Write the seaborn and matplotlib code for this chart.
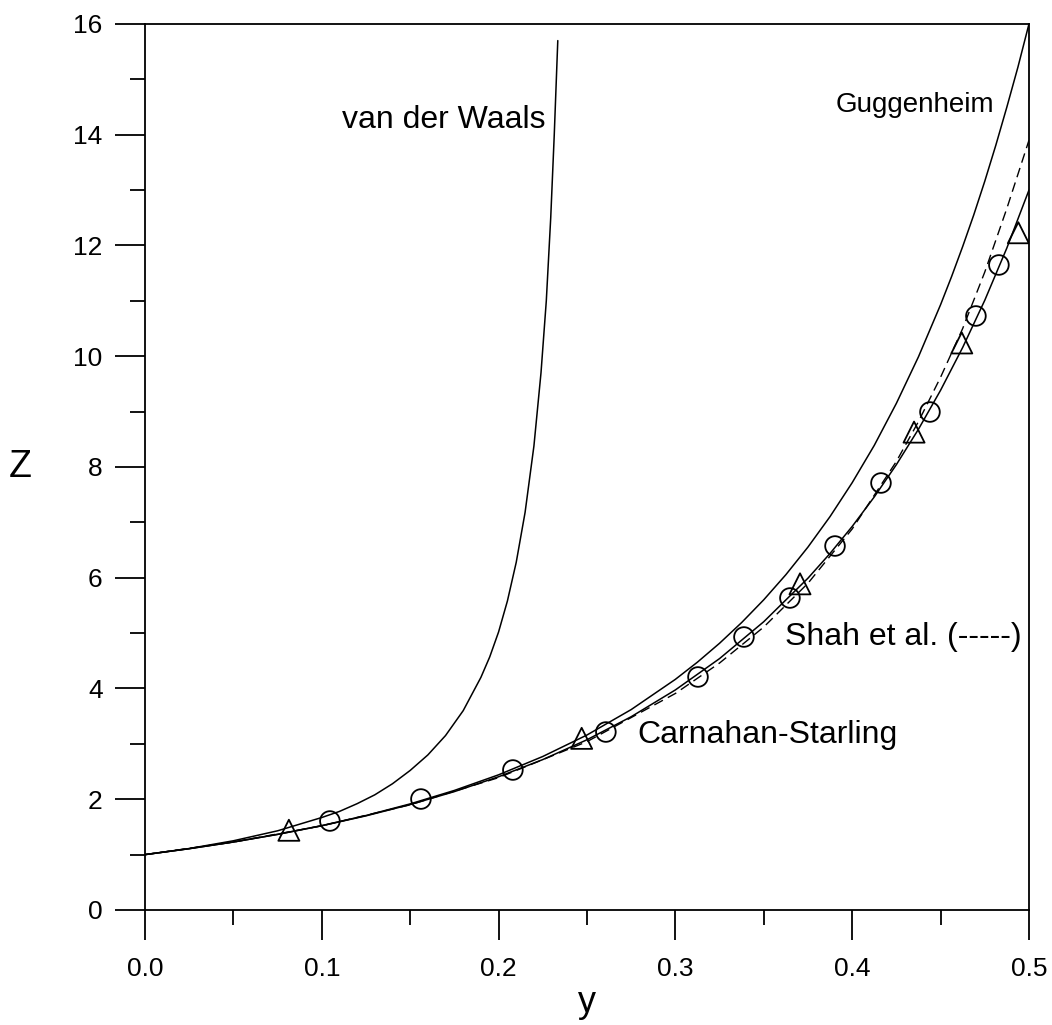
import numpy as np
import pandas as pd
import matplotlib
matplotlib.use("Agg")
import matplotlib.pyplot as plt
import seaborn as sns

# packing fraction y and compressibility factor Z
vdw_y = [0.0, 0.025, 0.05, 0.075, 0.1, 0.11, 0.12, 0.13, 0.14, 0.15, 0.16, 0.17,
         0.18, 0.19, 0.195, 0.2, 0.205, 0.21, 0.215, 0.22, 0.224, 0.227, 0.2295,
         0.2315, 0.2335]
vdw_z = [1.0, 1.11, 1.25, 1.43, 1.67, 1.78, 1.92, 2.08, 2.28, 2.52, 2.8, 3.15,
         3.6, 4.2, 4.57, 5.02, 5.58, 6.28, 7.18, 8.38, 9.7, 11.0, 12.5,
         14.0, 15.7]

gug_y = [0.0, 0.025, 0.05, 0.075, 0.1, 0.125, 0.15, 0.175, 0.2, 0.225, 0.25, 0.275,
         0.3, 0.3125, 0.325, 0.3375, 0.35, 0.3625, 0.375, 0.3875, 0.4, 0.4125,
         0.425, 0.4375, 0.45, 0.45625, 0.4625, 0.46875, 0.475, 0.48125, 0.4875,
         0.49375, 0.5]
gug_z = [1.0, 1.107, 1.228, 1.366, 1.524, 1.706, 1.916, 2.159, 2.441, 2.772, 3.16, 3.619,
         4.165, 4.476, 4.817, 5.191, 5.602, 6.055, 6.554, 7.105, 7.716, 8.39,
         9.149, 9.99, 10.93, 11.44, 11.98, 12.55, 13.16, 13.81, 14.5,
         15.22, 16.0]

cs_y = [0.0, 0.025, 0.05, 0.075, 0.1, 0.125, 0.15, 0.175, 0.2, 0.225, 0.25, 0.275,
        0.3, 0.325, 0.35, 0.375, 0.3875, 0.4, 0.4125, 0.425, 0.4375, 0.45, 0.4625,
        0.475, 0.4875, 0.5]
cs_z = [1.0, 1.107, 1.227, 1.365, 1.521, 1.70, 1.904, 2.138, 2.406, 2.716, 3.074, 3.49,
        3.974, 4.54, 5.206, 5.992, 6.439, 6.926, 7.459, 8.042, 8.682, 9.385, 10.158,
        11.01, 11.955, 13.0]

shah_y = [0.0, 0.05, 0.1, 0.15, 0.2, 0.25, 0.3, 0.325, 0.35, 0.375, 0.4, 0.425,
          0.4375, 0.45, 0.4625, 0.475, 0.4875, 0.5]
shah_z = [1.0, 1.227, 1.52, 1.90, 2.39, 3.04, 3.91, 4.46, 5.11, 5.90, 6.88, 8.10,
          8.82, 9.62, 10.50, 11.52, 12.67, 13.9]

circ_y = [0.1046, 0.1561, 0.2081, 0.2607, 0.3128, 0.3388, 0.3648, 0.3903, 0.4163, 0.444, 0.47, 0.483]
circ_z = [1.607, 2.004, 2.528, 3.214, 4.208, 4.93, 5.634, 6.573, 7.711, 8.993, 10.727, 11.648]

tri_y = [0.0814, 0.247, 0.3705, 0.435, 0.462, 0.494]
tri_z = [1.44, 3.10, 5.89, 8.63, 10.24, 12.23]

sns.set_style("ticks")
plt.rcParams["font.family"] = ["Liberation Sans", "DejaVu Sans"]
plt.rcParams["text.color"] = "black"
plt.rcParams["axes.labelcolor"] = "black"

fig = plt.figure(figsize=(10.52, 10.25), dpi=100)
ax = fig.add_axes([0.1378, 0.1122, 0.8403, 0.8644])

sns.lineplot(x=vdw_y, y=vdw_z, sort=False, color="black", lw=1.1, ax=ax)
sns.lineplot(x=gug_y, y=gug_z, sort=False, color="black", lw=1.1, ax=ax)
sns.lineplot(x=cs_y, y=cs_z, sort=False, color="black", lw=1.1, ax=ax)
sns.lineplot(x=shah_y, y=shah_z, sort=False, color="black", lw=1.0, ax=ax,
             linestyle=(0, (7, 4)))

sns.scatterplot(x=circ_y, y=circ_z, marker="o", s=200, facecolors="none",
                edgecolor="black", linewidth=1.3, ax=ax, zorder=3)
sns.scatterplot(x=tri_y, y=tri_z, marker="^", s=230, facecolors="none",
                edgecolor="black", linewidth=1.3, ax=ax, zorder=3)

ax.set_xlim(0, 0.5)
ax.set_ylim(0, 16)
ax.set_xticks([0, 0.1, 0.2, 0.3, 0.4, 0.5])
ax.set_xticklabels(["0.0", "0.1", "0.2", "0.3", "0.4", "0.5"])
ax.set_xticks(np.arange(0.05, 0.5, 0.1), minor=True)
ax.set_yticks(range(0, 17, 2))
ax.set_yticks(range(1, 16, 2), minor=True)

for side in ["left", "right", "top", "bottom"]:
    ax.spines[side].set_visible(True)
    ax.spines[side].set_linewidth(1.3)
    ax.spines[side].set_color("black")

ax.tick_params(which="major", direction="out", length=21.5, width=1.3,
               labelsize=19, colors="black")
ax.tick_params(which="minor", direction="out", length=11, width=1.3, colors="black")
ax.tick_params(axis="x", which="major", pad=12)
ax.tick_params(axis="y", which="major", pad=9)

ax.set_xlabel("y", fontsize=26, labelpad=3)
ax.set_ylabel("Z", fontsize=27, rotation=0, labelpad=38, va="center")

ax.text(0.1114, 14.12, "van der Waals", fontsize=23)
ax.text(0.3908, 14.41, "Guggenheim", fontsize=20)
ax.text(0.2783, 3.016, "Carnahan-Starling", fontsize=23)
ax.text(0.362, 4.785, "Shah et al. (-----)", fontsize=23)

fig.savefig("out.png", dpi=100)
